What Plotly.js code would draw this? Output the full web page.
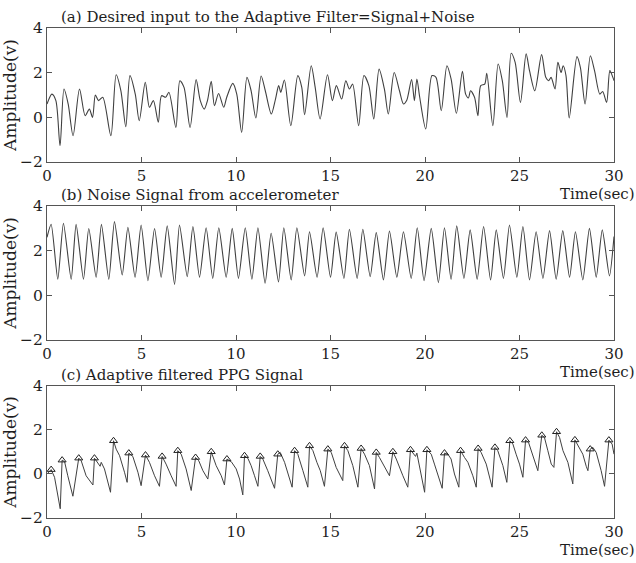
<!DOCTYPE html>
<html>
<head>
<meta charset="utf-8">
<script src="https://cdn.plot.ly/plotly-3.0.1.min.js"></script>
<style>html,body{margin:0;padding:0;background:#fff;}#chart{width:636px;height:563px;}</style>
</head>
<body>
<div id="chart"></div>
<script>
// ---- Data ----
const xTickVals = [0, 5, 10, 15, 20, 25, 30];
const yTickVals = [-2, 0, 2, 4];
const panelTitles = [
  "(a) Desired input to the Adaptive Filter=Signal+Noise",
  "(b) Noise Signal from accelerometer",
  "(c) Adaptive filtered PPG Signal"
];
const yLabel = "Amplitude(v)";
const xLabel = "Time(sec)";

// (a) signal + noise
const aT = [0.0,0.26,0.47,0.69,0.90,1.12,1.38,1.72,2.02,2.24,2.41,2.56,2.73,2.95,3.38,3.66,3.91,4.17,4.39,4.67,4.88,5.20,5.42,5.63,5.89,6.06,6.28,6.45,6.82,7.03,7.25,7.57,7.89,8.11,8.32,8.49,8.69,8.86,9.08,9.35,9.51,9.83,10.04,10.30,10.58,10.80,11.05,11.33,11.55,11.87,12.09,12.26,12.37,12.56,12.90,13.27,13.48,13.63,13.98,14.19,14.45,14.84,15.10,15.31,15.59,15.81,16.00,16.17,16.49,16.77,17.03,17.29,17.57,17.85,18.06,18.37,18.65,18.86,19.03,19.29,19.44,19.57,19.72,20.04,20.37,20.58,20.86,21.16,21.38,21.66,21.98,22.15,22.30,22.41,22.62,22.80,22.95,23.16,23.27,23.59,23.87,24.09,24.34,24.56,24.77,25.05,25.35,25.53,25.81,26.17,26.39,26.54,26.67,26.88,27.03,27.20,27.31,27.46,27.63,28.04,28.22,28.47,28.75,28.97,29.25,29.40,29.61,29.78,29.94,30.0];
const aV = [0.60,1.04,0.75,-1.27,1.27,0.60,-0.82,1.27,0.07,0.37,0.00,1.00,0.75,0.90,-0.82,1.91,1.19,-0.42,1.87,1.04,-0.15,1.57,0.45,0.75,-0.22,0.97,0.90,1.12,-0.45,1.64,1.34,-0.45,1.69,0.75,0.37,0.75,1.61,0.52,1.07,0.45,0.90,1.52,1.04,-0.67,1.79,1.19,-0.03,1.85,1.19,0.15,0.82,1.42,1.12,1.67,-0.37,1.87,1.34,0.12,2.31,1.34,-0.07,1.91,0.75,1.42,0.82,1.64,1.27,1.49,-0.37,1.87,1.42,-0.07,2.16,1.27,0.15,2.01,1.19,0.60,0.75,1.69,0.75,1.72,0.90,-0.52,1.87,1.79,0.30,2.31,1.72,0.18,2.06,1.04,0.87,1.19,0.90,0.07,1.42,1.49,1.97,-0.37,2.39,1.64,0.00,2.87,2.46,0.67,2.84,2.09,1.19,2.81,1.79,1.64,1.79,1.27,2.46,2.01,2.31,1.87,-0.03,2.72,2.24,0.60,2.76,2.09,1.04,1.16,0.67,2.09,1.79,1.64];

// (b) accelerometer noise
const bT = [0.0,0.22,0.57,0.87,1.28,1.54,1.93,2.21,2.60,2.88,3.27,3.57,3.98,4.28,4.66,4.98,5.34,5.69,6.04,6.36,6.75,7.01,7.42,7.72,8.07,8.42,8.77,9.09,9.48,9.80,10.13,10.49,10.84,11.16,11.54,11.86,12.25,12.53,12.92,13.22,13.63,13.89,14.29,14.61,15.00,15.30,15.71,16.00,16.41,16.71,17.10,17.42,17.80,18.12,18.51,18.86,19.27,19.59,19.95,20.33,20.71,21.03,21.38,21.68,22.06,22.39,22.76,23.10,23.47,23.77,24.15,24.47,24.86,25.18,25.53,25.88,26.24,26.59,26.94,27.29,27.65,27.96,28.35,28.70,29.06,29.38,29.76,30.0];
const bV = [2.60,3.18,0.72,3.23,0.72,3.18,0.72,2.99,0.81,3.18,0.72,3.30,0.91,3.05,0.81,3.15,0.66,2.99,0.81,3.11,0.49,3.15,0.84,3.08,0.81,3.03,0.76,3.03,0.81,3.00,0.76,3.03,0.72,3.03,0.54,2.78,0.60,3.03,0.69,3.03,0.87,2.85,0.81,3.03,0.81,2.83,0.76,2.96,0.76,2.96,0.84,2.81,0.69,2.88,0.81,2.85,0.76,3.03,0.66,3.00,0.57,3.03,0.72,3.11,0.76,2.93,0.72,3.08,0.69,2.93,0.76,3.15,0.81,3.08,0.69,2.85,0.76,2.90,0.72,2.90,0.81,2.85,0.69,3.00,0.81,2.93,0.87,2.63];

// (c) adaptive filtered PPG
const cT = [0.0,0.22,0.40,0.70,0.80,0.93,1.10,1.37,1.68,1.81,2.07,2.43,2.51,2.69,2.81,2.87,3.04,3.36,3.52,3.66,3.84,4.10,4.24,4.33,4.54,4.81,4.98,5.21,5.42,5.69,5.95,6.09,6.30,6.57,6.83,6.92,7.10,7.36,7.63,7.86,8.03,8.25,8.51,8.69,8.95,9.22,9.39,9.52,9.75,10.01,10.19,10.36,10.45,10.63,10.80,10.98,11.16,11.28,11.42,11.68,12.04,12.21,12.34,12.57,12.74,12.97,13.10,13.27,13.54,13.80,13.89,14.07,14.28,14.46,14.68,14.86,15.04,15.30,15.65,15.74,15.92,16.18,16.45,16.62,16.80,17.06,17.33,17.42,17.59,17.86,18.12,18.30,18.48,18.83,19.09,19.23,19.39,19.50,19.57,19.71,19.98,20.10,20.33,20.50,20.68,20.91,21.03,21.21,21.38,21.56,21.79,21.88,22.09,22.27,22.53,22.71,22.81,22.97,23.24,23.41,23.55,23.70,23.85,24.12,24.33,24.49,24.65,24.82,25.00,25.18,25.32,25.48,25.71,25.97,26.18,26.32,26.50,26.68,26.82,26.96,27.12,27.30,27.56,27.82,27.93,28.14,28.35,28.53,28.62,28.74,28.88,29.06,29.32,29.50,29.73,29.90,30.0];
const cV = [0.00,0.20,-0.15,-1.58,0.63,0.56,-0.08,-1.01,0.72,0.60,-0.08,-0.50,0.72,0.53,0.35,0.53,0.23,-0.83,1.51,1.13,0.83,0.08,-0.38,0.95,0.80,0.08,-0.53,0.86,0.53,-0.08,-0.56,0.80,0.45,-0.08,-0.56,1.06,0.90,0.23,-0.75,0.75,0.60,0.15,-0.23,1.01,0.38,-0.08,-0.50,0.68,0.56,0.23,-0.23,-0.95,0.83,0.71,0.38,-0.08,-0.56,0.80,0.68,0.15,-0.65,0.90,0.98,0.53,0.00,-0.60,1.06,0.90,0.15,-0.60,1.28,1.06,0.53,0.15,-0.56,1.13,0.98,0.30,-0.30,1.28,1.06,0.38,-0.60,1.16,0.90,0.38,-0.68,0.98,0.75,0.30,-0.08,1.01,0.68,-0.08,-0.60,1.10,0.90,0.80,0.95,0.30,-0.83,1.10,0.90,0.45,-0.08,-0.65,0.95,0.90,0.68,0.00,-0.60,1.06,0.75,0.53,-0.08,-0.60,1.16,0.98,0.45,-0.08,-0.60,1.21,1.06,0.38,-0.38,1.51,1.36,0.90,0.45,-0.15,1.54,1.43,0.83,0.15,1.76,1.66,1.06,0.45,0.30,1.92,1.66,1.06,0.53,-0.45,1.55,1.21,0.90,0.35,0.15,1.13,1.21,0.98,0.15,-0.56,1.54,1.36,0.90];
// detected peaks (triangle markers)
const cPeakT = [0.22,0.80,1.68,2.51,3.52,4.33,5.21,6.09,6.92,7.86,8.69,9.52,10.45,11.28,12.21,13.10,13.89,14.86,15.74,16.62,17.42,18.30,19.23,20.10,21.03,21.88,22.81,23.70,24.49,25.32,26.18,26.96,27.93,28.74,29.73];
const cPeakV = [0.20,0.63,0.72,0.72,1.51,0.95,0.86,0.80,1.06,0.75,1.01,0.68,0.83,0.80,0.90,1.06,1.28,1.13,1.28,1.16,0.98,1.01,1.10,1.10,0.95,1.06,1.16,1.21,1.51,1.54,1.76,1.92,1.55,1.13,1.54];

// ---- Chart ----
const FONT = '"DejaVu Serif", "Liberation Serif", serif';
const lineCol = '#404040';
const textCol = '#1e1e1e';

const traces = [
  {x: aT, y: aV, xaxis: 'x', yaxis: 'y', mode: 'lines', line: {color: lineCol, width: 1.1, shape: 'spline', smoothing: 0.8}, hoverinfo: 'skip'},
  {x: bT, y: bV, xaxis: 'x2', yaxis: 'y2', mode: 'lines', line: {color: lineCol, width: 1.1, shape: 'spline', smoothing: 0.6}, hoverinfo: 'skip'},
  {x: cT, y: cV, xaxis: 'x3', yaxis: 'y3', mode: 'lines', line: {color: lineCol, width: 1.0}, hoverinfo: 'skip'},
  {x: cPeakT, y: cPeakV, xaxis: 'x3', yaxis: 'y3', mode: 'markers', marker: {symbol: 'triangle-up-open', size: 7, color: '#222', line: {width: 1}}, hoverinfo: 'skip'}
];

function xAx(anchor) {
  return {
    anchor: anchor, range: [0, 30], tickvals: xTickVals, ticktext: xTickVals.map(String),
    ticks: 'inside', ticklen: 5, tickcolor: '#555', mirror: 'allticks', showline: true,
    linecolor: '#555', linewidth: 1, showgrid: false, zeroline: false,
    tickfont: {family: FONT, size: 15, color: textCol}, domain: [0, 1]
  };
}
function yAx(anchor, domain) {
  return {
    anchor: anchor, range: [-2, 4], tickvals: yTickVals, ticktext: yTickVals.map(v => v < 0 ? '\u2212' + Math.abs(v) : String(v)),
    ticks: 'inside', ticklen: 5, tickcolor: '#555', mirror: 'allticks', showline: true,
    linecolor: '#555', linewidth: 1, showgrid: false, zeroline: false,
    tickfont: {family: FONT, size: 15.5, color: textCol}, domain: domain,
    title: {text: yLabel, font: {family: FONT, size: 17, color: textCol}, standoff: 0}
  };
}

const dA = [0.7265, 1.0], dB = [0.3633, 0.6367], dC = [0.0, 0.2694];
const annotations = [];
[[dA, 0], [dB, 1], [dC, 2]].forEach(([d, i]) => {
  annotations.push({text: panelTitles[i], xref: 'paper', yref: 'paper', x: 0, y: d[1], xanchor: 'left', yanchor: 'bottom', xshift: 12, yshift: 0, showarrow: false, font: {family: FONT, size: 15, color: textCol}});
  annotations.push({text: xLabel, xref: 'paper', yref: 'paper', x: 1, y: d[0], xanchor: 'right', yanchor: 'top', xshift: 23, yshift: -21, showarrow: false, font: {family: FONT, size: 15, color: textCol}});
});

const layout = {
  width: 636, height: 563,
  margin: {l: 47, r: 22, t: 28, b: 45},
  paper_bgcolor: '#fff', plot_bgcolor: '#fff',
  showlegend: false,
  xaxis: xAx('y'), yaxis: yAx('x', dA),
  xaxis2: xAx('y2'), yaxis2: yAx('x2', dB),
  xaxis3: xAx('y3'), yaxis3: yAx('x3', dC),
  annotations: annotations
};

Plotly.newPlot('chart', traces, layout, {displayModeBar: false, staticPlot: true});
</script>
</body>
</html>
